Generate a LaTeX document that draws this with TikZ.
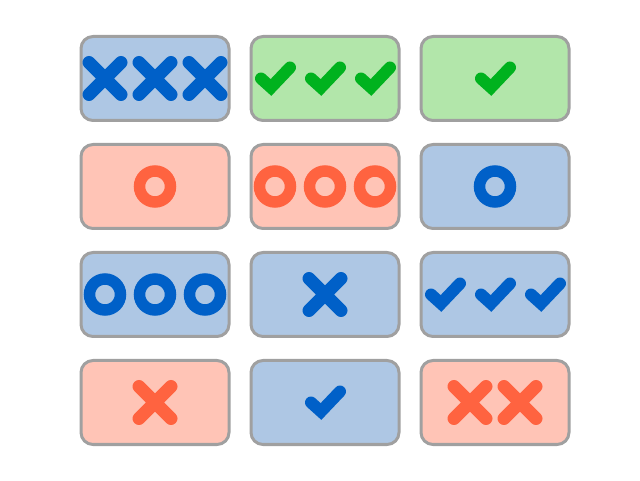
\documentclass[tikz,border=0pt]{standalone}
\definecolor{bluefill}{RGB}{174,199,228}
\definecolor{greenfill}{RGB}{178,230,170}
\definecolor{pinkfill}{RGB}{255,196,182}
\definecolor{edgegray}{RGB}{160,160,160}
\definecolor{bluemark}{RGB}{0,96,200}
\definecolor{greenmark}{RGB}{0,178,30}
\definecolor{orangemark}{RGB}{255,99,64}
\begin{document}
\begin{tikzpicture}[x=0.75pt,y=0.75pt,yscale=-1,xscale=1,
	box/.style={draw=edgegray,line width=2.25pt,rounded corners=9pt},
	xmark/.pic={\draw[line width=9.75pt,line cap=round] (-16,-16) -- (16,16) (-16,16) -- (16,-16);},
	checkmark/.pic={\draw[line width=9pt,line cap=round,line join=miter] (-14,0) -- (-4,-9) -- (15,11);},
	ringmark/.pic={\draw[line width=8.6pt] (0,0) circle (15.5);}]
	\useasboundingbox (0,0) rectangle (640,481);
	% row 1
	\draw[box,fill=bluefill] (81,36.5) rectangle (229,120.5);
	\draw[box,fill=greenfill] (251,36.5) rectangle (399,120.5);
	\draw[box,fill=greenfill] (421,36.5) rectangle (569,120.5);
	\foreach \x in {105,155,205} \pic[color=bluemark] at (\x,78.5) {xmark};
	\foreach \x in {275,325,375} \pic[color=greenmark] at (\x,78.5) {checkmark};
	\pic[color=greenmark] at (495,78.5) {checkmark};
	% row 2
	\draw[box,fill=pinkfill] (81,144.5) rectangle (229,228.5);
	\draw[box,fill=pinkfill] (251,144.5) rectangle (399,228.5);
	\draw[box,fill=bluefill] (421,144.5) rectangle (569,228.5);
	\pic[color=orangemark] at (155,186.5) {ringmark};
	\foreach \x in {275,325,375} \pic[color=orangemark] at (\x,186.5) {ringmark};
	\pic[color=bluemark] at (495,186.5) {ringmark};
	% row 3
	\draw[box,fill=bluefill] (81,252.5) rectangle (229,336.5);
	\draw[box,fill=bluefill] (251,252.5) rectangle (399,336.5);
	\draw[box,fill=bluefill] (421,252.5) rectangle (569,336.5);
	\foreach \x in {105,155,205} \pic[color=bluemark] at (\x,294.5) {ringmark};
	\pic[color=bluemark] at (325,294.5) {xmark};
	\foreach \x in {445,495,545} \pic[color=bluemark] at (\x,294.5) {checkmark};
	% row 4
	\draw[box,fill=pinkfill] (81,360.5) rectangle (229,444.5);
	\draw[box,fill=bluefill] (251,360.5) rectangle (399,444.5);
	\draw[box,fill=pinkfill] (421,360.5) rectangle (569,444.5);
	\pic[color=orangemark] at (155,402.5) {xmark};
	\pic[color=bluemark] at (325,402.5) {checkmark};
	\foreach \x in {470,520} \pic[color=orangemark] at (\x,402.5) {xmark};
\end{tikzpicture}
\end{document}
